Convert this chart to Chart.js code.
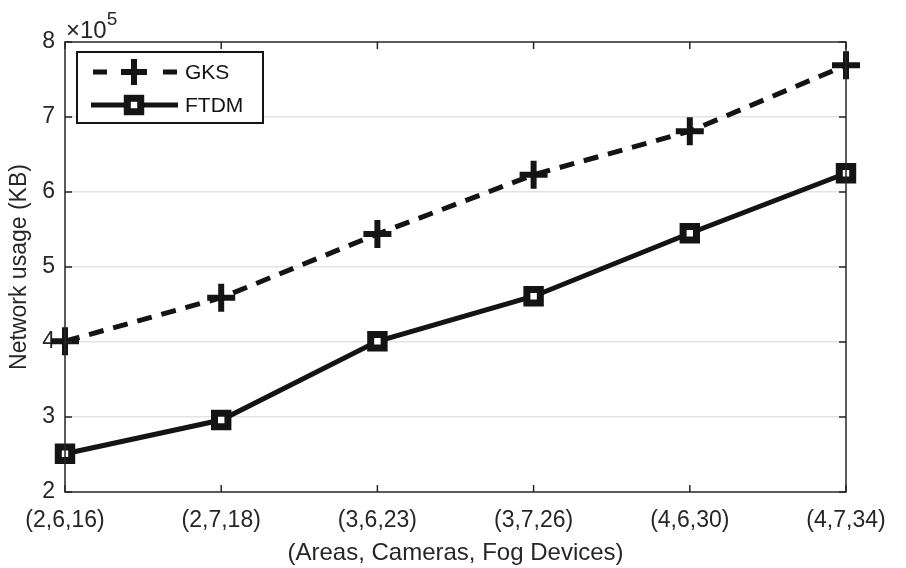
<!DOCTYPE html>
<html>
<head>
<meta charset="utf-8">
<title>Network usage</title>
<script src="https://cdn.jsdelivr.net/npm/chart.js@4.4.0/dist/chart.umd.min.js"></script>
<style>
    html, body { margin: 0; padding: 0; background: #fff; }
    #wrap { width: 906px; height: 568px; }
</style>
</head>
<body>
<div id="wrap"><canvas id="usageChart" width="906" height="568"></canvas></div>
<script>
// Data (values in KB)
const categories = ['(2,6,16)', '(2,7,18)', '(3,6,23)', '(3,7,26)', '(4,6,30)', '(4,7,34)'];
const gksValues  = [401000, 459000, 544000, 623000, 681000, 769000];
const ftdmValues = [251000, 296000, 401000, 461000, 545000, 625000];
const yTicks = [2, 3, 4, 5, 6, 7, 8];
const yScaleExp = 5;

const INK = '#141414';
const AXIS = '#262626';
const FONT = "'Liberation Sans', Arial, sans-serif";

/**
 * Box, inward ticks, x10^5 label and in-plot legend
 */
const matlabFrame = {
    id: 'matlabFrame',
    afterDatasetsDraw(chart) {
        const { ctx, chartArea: a, scales: { x, y } } = chart;
        ctx.save();

        // frame
        ctx.strokeStyle = AXIS;
        ctx.lineWidth = 1.5;
        ctx.strokeRect(a.left, a.top, a.right - a.left, a.bottom - a.top);

        // inward ticks
        const len = 7;
        ctx.beginPath();
        x.ticks.forEach((t, i) => {
            const px = x.getPixelForTick(i);
            ctx.moveTo(px, a.bottom); ctx.lineTo(px, a.bottom - len);
            ctx.moveTo(px, a.top); ctx.lineTo(px, a.top + len);
        });
        y.ticks.forEach((t, i) => {
            const py = y.getPixelForTick(i);
            ctx.moveTo(a.left, py); ctx.lineTo(a.left + len, py);
            ctx.moveTo(a.right, py); ctx.lineTo(a.right - len, py);
        });
        ctx.stroke();

        // exponent label
        ctx.fillStyle = AXIS;
        ctx.textBaseline = 'alphabetic';
        ctx.textAlign = 'left';
        ctx.font = '24px ' + FONT;
        const base = '\u00d710';
        ctx.fillText(base, a.left + 1, a.top - 4);
        const w = ctx.measureText(base).width;
        ctx.font = '19px ' + FONT;
        ctx.fillText(String(yScaleExp), a.left + 1 + w, a.top - 17);

        // legend box
        const lx = a.left + 12, ly = a.top + 10, lw = 186, lh = 71;
        ctx.fillStyle = '#fff';
        ctx.fillRect(lx, ly, lw, lh);
        ctx.strokeStyle = INK;
        ctx.lineWidth = 2;
        ctx.strokeRect(lx, ly, lw, lh);

        chart.data.datasets.forEach((ds, i) => {
            const ry = ly + 20 + i * 33;
            const x0 = lx + 14, x1 = lx + 101, xm = lx + 57;
            ctx.strokeStyle = ds.borderColor;
            ctx.lineWidth = ds.borderWidth;
            ctx.beginPath();
            if (ds.borderDash) {
                // short dash either side of the marker
                ctx.moveTo(x0 + 2, ry); ctx.lineTo(x0 + 16, ry);
                ctx.moveTo(x1 - 15, ry); ctx.lineTo(x1 - 1, ry);
            } else {
                ctx.moveTo(x0, ry); ctx.lineTo(x1, ry);
            }
            ctx.stroke();

            ctx.lineWidth = ds.pointBorderWidth;
            if (ds.pointStyle === 'cross') {
                const r = ds.pointRadius - 1;
                ctx.beginPath();
                ctx.moveTo(xm - r, ry); ctx.lineTo(xm + r, ry);
                ctx.moveTo(xm, ry - r); ctx.lineTo(xm, ry + r);
                ctx.stroke();
            } else {
                const s = Math.SQRT1_2 * ds.pointRadius;
                ctx.fillStyle = ds.pointBackgroundColor;
                ctx.fillRect(xm - s, ry - s, 2 * s, 2 * s);
                ctx.strokeRect(xm - s, ry - s, 2 * s, 2 * s);
            }

            ctx.fillStyle = INK;
            ctx.font = '21px ' + FONT;
            ctx.textBaseline = 'middle';
            ctx.fillText(ds.label, lx + 108, ry + 1);
        });

        ctx.restore();
    }
};

new Chart(document.getElementById('usageChart'), {
    type: 'line',
    data: {
        labels: categories,
        datasets: [{
            label: 'GKS',
            data: gksValues,
            borderColor: INK,
            borderWidth: 5,
            borderDash: [15, 10],
            pointStyle: 'cross',
            pointRadius: 14,
            pointBorderWidth: 6,
            pointBorderColor: INK,
            pointBackgroundColor: INK,
            tension: 0
        }, {
            label: 'FTDM',
            data: ftdmValues,
            borderColor: INK,
            borderWidth: 5,
            pointStyle: 'rect',
            pointRadius: 9.5,
            pointBorderWidth: 7,
            pointBorderColor: INK,
            pointBackgroundColor: '#fff',
            tension: 0
        }]
    },
    options: {
        responsive: false,
        animation: false,
        devicePixelRatio: 1,
        layout: {
            padding: { left: 0, top: 42, right: 60, bottom: 0 }
        },
        plugins: {
            legend: { display: false },
            tooltip: { enabled: false }
        },
        scales: {
            x: {
                offset: false,
                grid: { display: false },
                border: { display: false },
                ticks: {
                    color: AXIS,
                    padding: 7,
                    maxRotation: 0,
                    autoSkip: false,
                    font: { family: FONT, size: 23 }
                },
                title: {
                    display: true,
                    text: '(Areas, Cameras, Fog Devices)',
                    color: AXIS,
                    padding: { top: 0, bottom: 0 },
                    font: { family: FONT, size: 24 }
                },
                afterFit: function(scale) { scale.height = 76; }
            },
            y: {
                min: yTicks[0] * Math.pow(10, yScaleExp),
                max: yTicks[yTicks.length - 1] * Math.pow(10, yScaleExp),
                afterBuildTicks: function(scale) {
                    scale.ticks = yTicks.map(v => ({ value: v * Math.pow(10, yScaleExp) }));
                },
                grid: {
                    color: function(c) {
                        const v = c.tick && c.tick.value;
                        const lo = yTicks[0] * Math.pow(10, yScaleExp);
                        const hi = yTicks[yTicks.length - 1] * Math.pow(10, yScaleExp);
                        return (v === lo || v === hi) ? 'rgba(0,0,0,0)' : '#e3e3e3';
                    },
                    lineWidth: 1.5,
                    drawTicks: false
                },
                border: { display: false },
                ticks: {
                    color: AXIS,
                    padding: 10,
                    font: { family: FONT, size: 23 },
                    callback: function(v) { return v / Math.pow(10, yScaleExp); }
                },
                title: {
                    display: true,
                    text: 'Network usage (KB)',
                    color: AXIS,
                    padding: { top: 6, bottom: 2 },
                    font: { family: FONT, size: 23 }
                },
                afterFit: function(scale) { scale.width = 65; }
            }
        }
    },
    plugins: [matlabFrame]
});
</script>
</body>
</html>
